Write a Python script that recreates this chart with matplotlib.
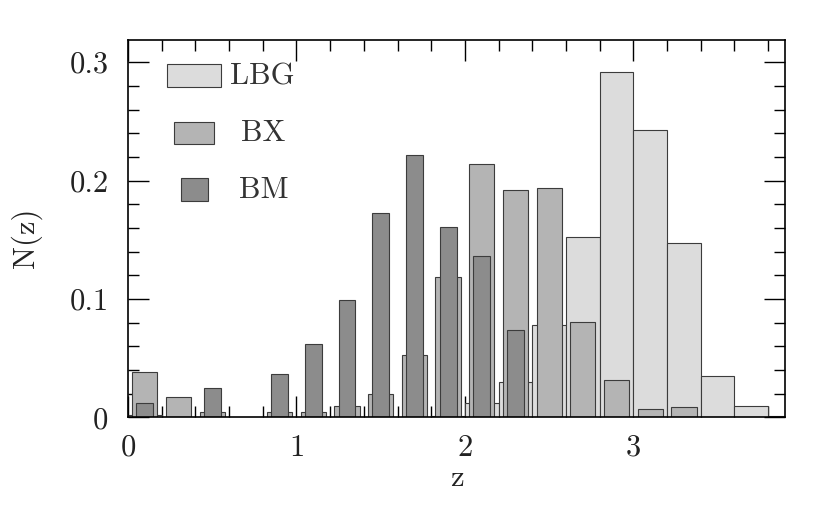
import matplotlib
matplotlib.use("Agg")
import matplotlib.pyplot as plt
from matplotlib.patches import Rectangle
from matplotlib.ticker import MultipleLocator
import numpy as np

plt.rcParams['font.family'] = ['cmr10', 'DejaVu Serif']
plt.rcParams['axes.formatter.use_mathtext'] = True
plt.rcParams['mathtext.fontset'] = 'cm'

# bin centres (redshift)
z_centers = [0.1, 0.3, 0.5, 0.7, 0.9, 1.1, 1.3, 1.5, 1.7, 1.9,
             2.1, 2.3, 2.5, 2.7, 2.9, 3.1, 3.3, 3.5, 3.7, 3.9]
lbg = [0.0025, 0, 0, 0, 0, 0, 0, 0, 0, 0.0015,
       0.012, 0.030, 0.078, 0.152, 0.292, 0.243, 0.147, 0.035, 0.0095, 0.001]
bx = [0.038, 0.017, 0.0044, 0, 0.0044, 0.0044, 0.010, 0.020, 0.053, 0.119,
      0.214, 0.192, 0.194, 0.081, 0.032, 0.007, 0.0086, 0, 0, 0]
bm = [0.012, 0, 0.025, 0, 0.037, 0.062, 0.099, 0.173, 0.222, 0.161,
      0.136, 0.074, 0, 0, 0, 0, 0, 0, 0, 0]

series_names = ['LBG', 'BX', 'BM']
x_ticks = [0, 1, 2, 3]
x_ticklabels = ['0', '1', '2', '3']
y_ticks = [0, 0.1, 0.2, 0.3]
y_ticklabels = ['0', '0.1', '0.2', '0.3']

colors = ['#dcdcdc', '#b4b4b4', '#8c8c8c']
widths = [0.2, 0.15, 0.1]
edge = '#3c3c3c'
txt = '#222222'

fig = plt.figure(figsize=(8.3, 5.12), dpi=100)
ax = fig.add_axes([0.1542, 0.1846, 0.7916, 0.7373])

zc = np.array(z_centers)
for vals, c, w in zip([lbg, bx, bm], colors, widths):
    v = np.array(vals)
    m = v > 0
    ax.bar(zc[m], v[m], width=w, color=c, edgecolor=edge, linewidth=0.8, zorder=2)

ax.set_xlim(0, 3.9)
ax.set_ylim(0, 0.3188)
ax.set_xticks(x_ticks)
ax.set_xticklabels(x_ticklabels)
ax.set_yticks(y_ticks)
ax.set_yticklabels(y_ticklabels)
ax.xaxis.set_minor_locator(MultipleLocator(0.2))
ax.yaxis.set_minor_locator(MultipleLocator(0.02))
ax.tick_params(which='both', direction='in', top=True, right=True,
               labelsize=22, color='black', labelcolor=txt, zorder=5)
ax.tick_params(which='major', length=15, width=1.0)
ax.tick_params(which='minor', length=8, width=1.0)
ax.tick_params(axis='x', which='major', pad=12)
ax.tick_params(axis='y', which='major', pad=14)
for s in ax.spines.values():
    s.set_linewidth(1.2)
    s.set_zorder(5)

ax.set_xlabel('z', fontsize=22, labelpad=2, color=txt)
ax.set_ylabel('N(z)', fontsize=22, color=txt, va='center')
ax.yaxis.set_label_coords(-0.155, 0.476)

# legend drawn by hand, in axes fraction
leg_boxes = [(0.0598, 0.8747, 0.0813, 0.0609),
             (0.0705, 0.7237, 0.0599, 0.0599),
             (0.0810, 0.5727, 0.0405, 0.0609)]
leg_text = [(0.1553, 0.902), (0.1715, 0.7536), (0.1686, 0.6026)]
for (bx0, by0, bw, bh), (tx, ty), c, name in zip(leg_boxes, leg_text, colors, series_names):
    ax.add_patch(Rectangle((bx0, by0), bw, bh, transform=ax.transAxes,
                           facecolor=c, edgecolor=edge, linewidth=0.8, zorder=3))
    ax.text(tx, ty, name, transform=ax.transAxes, fontsize=22,
            va='center', ha='left', color='#333333', zorder=3)

fig.savefig('out.png', dpi=100)
